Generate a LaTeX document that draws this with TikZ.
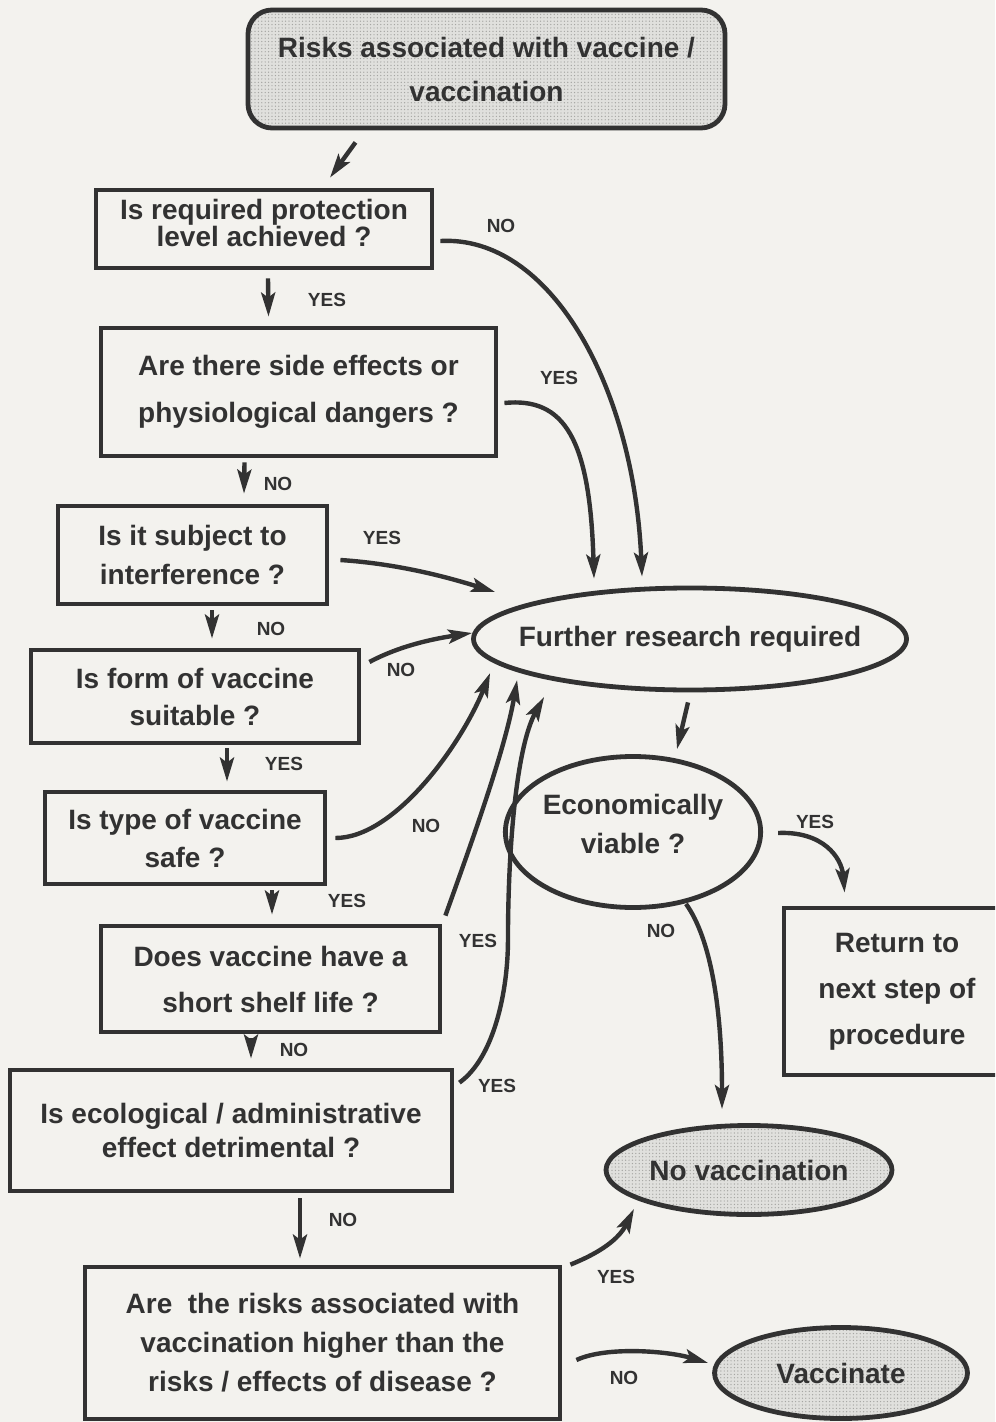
\documentclass[tikz,border=0pt]{standalone}
\usepackage{fontspec}
\setmainfont{Liberation Sans}
\usetikzlibrary{shapes.geometric,arrows.meta,calc,patterns.meta}

\definecolor{paper}{RGB}{243,242,238}
\definecolor{inkc}{RGB}{50,50,50}
\definecolor{shadec}{RGB}{224,224,221}
\definecolor{dotc}{RGB}{165,165,162}

% bold 14pt text with a given line distance
\newcommand{\qfont}[1]{\fontsize{14}{#1}\selectfont\bfseries}

\tikzset{
  ink/.style={draw=inkc, line width=2.4pt, text=inkc},
  qbox/.style={ink, rectangle, align=center, inner sep=2pt},
  shaded/.style={preaction={fill=shadec},
                 preaction={pattern={Dots[distance=1.7pt,radius=0.35pt]}, pattern color=dotc}},
  oval/.style={ink, ellipse, align=center, inner sep=0pt},
  arr/.style={draw=inkc, line width=2.2pt, -{Stealth[length=12pt,width=7pt,inset=2.5pt]}},
  lbl/.style={font=\fontsize{9.5}{11}\selectfont\bfseries, text=inkc, inner sep=0pt},
}

\begin{document}
\begin{tikzpicture}[x=0.5pt,y=-0.5pt]
\fill[paper] (0,0) rectangle (995,1422);
\useasboundingbox (0,0) rectangle (995,1422);
\begin{scope}
\clip (0,0) rectangle (995,1422);

% ---- decision boxes ----
\node[qbox, shaded, rounded corners=12pt, minimum width=238.5pt, minimum height=59pt, font=\qfont{22pt}]
  (top) at (486.5,69) {Risks associated with vaccine /\\vaccination};
\node[qbox, minimum width=168pt, minimum height=39pt, font=\qfont{13.5pt}]
  (b1) at (264,229) {Is required protection\\level achieved ?\rule[-6pt]{0pt}{0pt}};
\node[qbox, minimum width=197.5pt, minimum height=64pt, font=\qfont{23.5pt}]
  (b2) at (298.5,392) {Are there side effects or\\physiological dangers ?};
\node[qbox, minimum width=134.5pt, minimum height=49pt, font=\qfont{19.5pt}]
  (b3) at (192.5,555) {Is it subject to\\interference ?};
\node[qbox, minimum width=164pt, minimum height=46.5pt, font=\qfont{18.5pt}]
  (b4) at (195,696.5) {Is form of vaccine\\suitable ?};
\node[qbox, minimum width=140pt, minimum height=46pt, font=\qfont{19pt}]
  (b5) at (185,838) {Is type of vaccine\\safe ?};
\node[qbox, minimum width=169.5pt, minimum height=53pt, font=\qfont{23pt}]
  (b6) at (270.5,979) {Does vaccine have a\\short shelf life ?};
\node[qbox, minimum width=221pt, minimum height=60.5pt, font=\qfont{17pt}]
  (b7) at (231,1130.5) {Is ecological / administrative\\effect detrimental ?};
\node[qbox, minimum width=237.5pt, minimum height=76pt, font=\qfont{19.5pt}]
  (b8) at (322.5,1343) {Are\ \ the risks associated with\\vaccination higher than the\\risks / effects of disease ?};
\node[qbox, minimum width=113pt, minimum height=83.5pt, font=\qfont{23pt}]
  (ret) at (897,991.5) {Return to\\next step of\\procedure};

% ---- outcome ellipses ----
\node[oval, minimum width=216.5pt, minimum height=51pt, inner xsep=-12pt, font=\qfont{17pt}]
  (fr) at (690,639) {Further research required};
\node[oval, minimum width=124pt, minimum height=75.5pt, font=\qfont{19.5pt}]
  (ev) at (633,832) {Economically\\viable ?\rule[-8pt]{0pt}{0pt}};
\node[oval, shaded, minimum width=143pt, minimum height=44.5pt, inner xsep=-4pt, font=\qfont{17pt}]
  (nv) at (749,1170) {No vaccination};
\node[oval, shaded, minimum width=126.5pt, minimum height=45.5pt, font=\qfont{17pt}]
  (vac) at (841,1373) {Vaccinate};

% ---- connectors ----
\draw[arr] ($(top.south)+(-131,12)$) -- ($(b1.north)+(66,-10)$);
\draw[arr] ($(b1.south)+(4,8)$) -- ($(b2.north)+(-30,-9)$);
\draw[arr] ($(b1.east)+(6,12)$) .. controls +(110,-6) and +(-8,-190) .. ($(fr.north)+(-48,-9)$);
\draw[arr] ($(b2.east)+(6,11)$) .. controls +(60,-6) and +(-4,-140) .. ($(fr.north)+(-96,-7)$);
\draw[arr] ($(b2.south)+(-54,4)$) -- ($(b3.north)+(51.5,-10)$);
\draw[arr] ($(b3.east)+(11,5)$) .. controls +(60,4) and +(-45,-14) .. ($(fr.west)+(24,-47)$);
\draw[arr] ($(b3.south)+(19.5,4)$) -- ($(b4.north)+(17,-9)$);
\draw[arr] ($(b4.east)+(8,-34.5)$) .. controls +(30,-16) and +(-40,6) .. ($(fr.west)+(1,-6)$);
\draw[arr] ($(b4.south)+(32,3)$) -- ($(b5.north)+(42,-8)$);
\draw[arr] ($(b5.east)+(8,0)$) .. controls +(60,0) and +(-28,70) .. ($(fr.west)+(19,34)$);
\draw[arr] ($(b5.south)+(87,4)$) -- ($(b6.north)+(1.5,-9)$);
\draw[arr] ($(b6.north east)+(3,-8)$) .. controls +(25,-70) and +(-12,70) .. ($(fr.west)+(46,41)$);
\draw[arr] ($(b6.south)+(-19.5,4)$) -- ($(b7.north)+(20,-9)$);
\draw[arr] ($(b7.north east)+(5,15)$) .. controls +(35,-25) and +(0,50) .. ($(ev.west)+(5,108)$)
                                      .. controls +(0,-90) and +(-28,50) .. ($(fr.west)+(73,58)$);
\draw[arr] ($(fr.south)+(-2,10)$) -- ($(ev.north)+(44,-5)$);
\draw[arr] ($(ev.east)+(15,1)$) .. controls +(45,-2) and +(-3,-35) .. ($(ret.north west)+(63,-13)$);
\draw[arr] ($(ev.south)+(53,-6)$) .. controls +(25,35) and +(0,-100) .. ($(nv.north)+(-27,-14)$);
\draw[arr] ($(b7.south)+(69,5)$) -- ($(b8.north)+(-22.5,-6)$);
\draw[arr] ($(b8.north east)+(8,0)$) .. controls +(30,-12) and +(-15,30) .. ($(nv.south)+(-115,-8)$);
\draw[arr] ($(b8.east)+(14,17)$) .. controls +(30,-14) and +(-40,-12) .. ($(vac.west)+(-4,-10)$);

% ---- answer labels ----
\node[lbl] (l1)  at (501,226)  {NO};
\node[lbl] (l2)  at (327,300)  {YES};
\node[lbl] (l3)  at (559,378)  {YES};
\node[lbl] (l4)  at (278,484)  {NO};
\node[lbl] (l5)  at (382,538)  {YES};
\node[lbl] (l6)  at (271,629)  {NO};
\node[lbl] (l7)  at (401,670)  {NO};
\node[lbl] (l8)  at (284,764)  {YES};
\node[lbl] (l9)  at (426,826)  {NO};
\node[lbl] (l10) at (347,901)  {YES};
\node[lbl] (l11) at (478,941)  {YES};
\node[lbl] (l12) at (294,1050) {NO};
\node[lbl] (l13) at (497,1086) {YES};
\node[lbl] (l14) at (343,1220) {NO};
\node[lbl] (l15) at (616,1277) {YES};
\node[lbl] (l16) at (624,1378) {NO};
\node[lbl] (l17) at (815,822)  {YES};
\node[lbl] (l18) at (661,931)  {NO};
\end{scope}
\end{tikzpicture}
\end{document}
